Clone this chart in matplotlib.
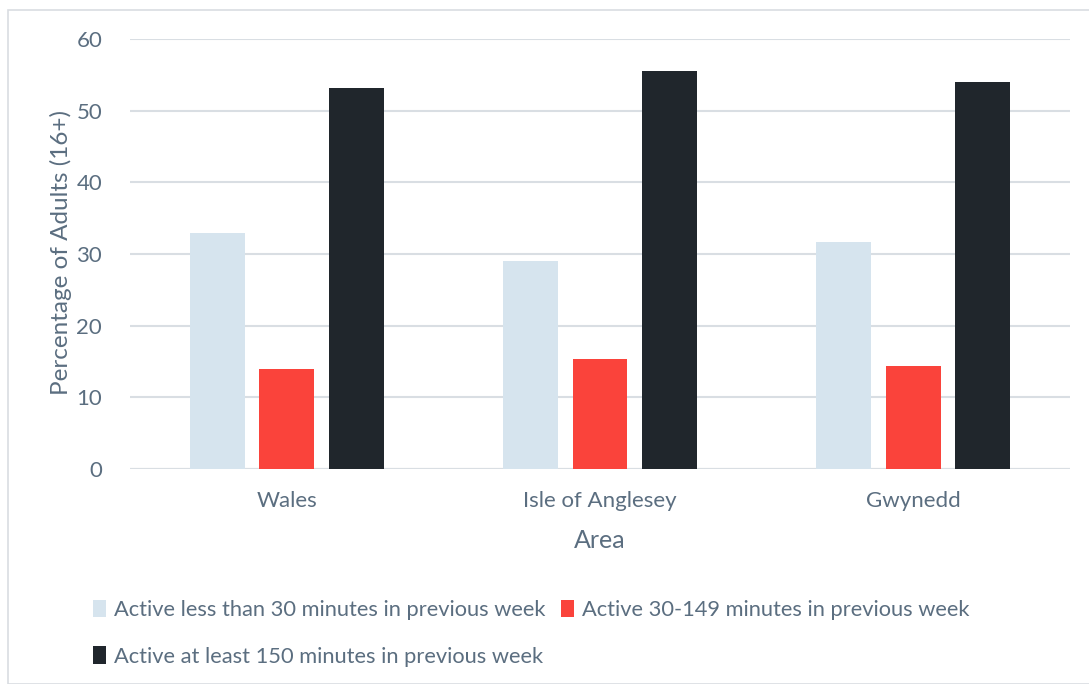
import numpy as np
import matplotlib
matplotlib.use("Agg")
from matplotlib import pyplot as plt
from matplotlib.patches import Rectangle

# Share of adults (16+) by weekly activity level
areas = ['Wales', 'Isle of Anglesey', 'Gwynedd']
series_names = ['Active less than 30 minutes in previous week',
                'Active 30-149 minutes in previous week',
                'Active at least 150 minutes in previous week']
under_30 = [33.0, 29.0, 31.7]
mid_30_149 = [13.9, 15.4, 14.4]
over_150 = [53.1, 55.6, 54.0]
yticks = [0, 10, 20, 30, 40, 50, 60]

colors = ['#d6e4ee', '#fa433b', '#20262c']
text_col = '#5b6e80'
grid_col = '#d9dee3'

plt.rcParams['font.family'] = ['Lato', 'DejaVu Sans']

fig = plt.figure(figsize=(10.89, 6.84), dpi=100)
ax = fig.add_axes([130 / 1089, 1 - 469 / 684, 940 / 1089, 430 / 684])

# outer frame around the chart
fig.patches.append(Rectangle((8 / 1089, 0), 1.2, 1 - 10 / 684, transform=fig.transFigure,
                             fill=False, edgecolor='#d9dde2', lw=1.2))

x = np.arange(len(areas))
offset = 0.222
width = 0.175
bars = []
for k, (vals, col) in enumerate(zip([under_30, mid_30_149, over_150], colors)):
    b = ax.bar(x + (k - 1) * offset, vals, width, color=col, label=series_names[k], zorder=3)
    bars.append(b)

ax.set_xlim(-0.5, 2.5)
ax.set_ylim(0, 60)
ax.set_yticks(yticks)
ax.yaxis.grid(True, color=grid_col, lw=1.5, zorder=0)
for s in ax.spines.values():
    s.set_visible(False)
ax.axhline(0, color=grid_col, lw=1.5, zorder=1)
ax.tick_params(length=0, labelsize=16, colors=text_col)
ax.tick_params(axis='y', pad=20)
ax.tick_params(axis='x', pad=16)
ax.set_xticks(x)
ax.set_xticklabels(areas)
ax.set_ylabel('Percentage of Adults (16+)', fontsize=17.5, color=text_col)
ax.yaxis.set_label_coords(-0.062, 0.503)
ax.set_xlabel('Area', fontsize=18, color=text_col, labelpad=13)

# row-wise order: first two entries on top line, third below
order = [0, 2, 1]
leg = fig.legend([bars[i] for i in order], [series_names[i] for i in order],
                 ncol=2, loc='upper left', bbox_to_anchor=(84 / 1089, 1 - 591 / 684),
                 frameon=False, fontsize=15.75, labelcolor=text_col,
                 handlelength=0.6, handleheight=0.85, handletextpad=0.37,
                 columnspacing=0.7, labelspacing=1.2, borderaxespad=0)

fig.savefig('out.png', dpi=100)
